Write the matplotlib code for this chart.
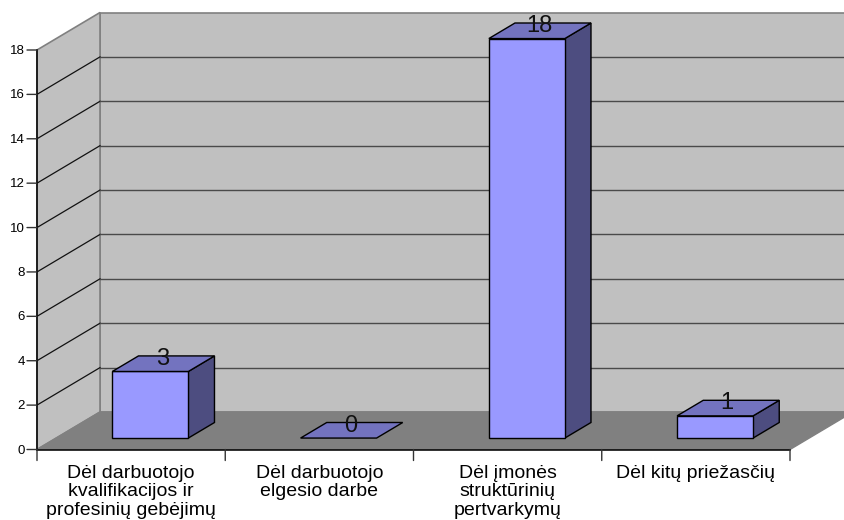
import matplotlib
matplotlib.use("Agg")
import matplotlib.pyplot as plt
from matplotlib.patches import Polygon

plt.rcParams['font.family'] = ['Liberation Sans', 'DejaVu Sans']

# --- chart data
categories = ["Dėl darbuotojo\nkvalifikacijos ir\nprofesinių gebėjimų",
              "Dėl darbuotojo\nelgesio darbe",
              "Dėl įmonės\nstruktūrinių\npertvarkymų",
              "Dėl kitų priežasčių"]
values = [3, 0, 18, 1]
y_ticks = [0, 2, 4, 6, 8, 10, 12, 14, 16, 18]

# --- oblique depth: one unit of depth in data units
W, H = 844.0, 520.0
X0, X1 = 37.0, 790.0
Y0, Y1 = 449.5, 50.0
DX = 63.0 / ((X1 - X0) / 4.0)
DY = 37.5 / ((Y0 - Y1) / 18.0)
BAR_W = 76.0 / ((X1 - X0) / 4.0)
BAR_D0, BAR_D1 = 0.305, 0.72


def proj(x, y, d=0.0):
    return (x + d * DX, y + d * DY)


def face(ax, pts, color, edge='black', lw=1.0, z=2):
    ax.add_patch(Polygon(pts, closed=True, facecolor=color, edgecolor=edge,
                         linewidth=lw, joinstyle='miter', clip_on=False, zorder=z))


fig = plt.figure(figsize=(W / 100, H / 100), dpi=100)
ax = fig.add_axes([X0 / W, 1 - Y0 / H, (X1 - X0) / W, (Y0 - Y1) / H])
ax.set_xlim(0, 4)
ax.set_ylim(0, 18)
ax.axis('off')

top = y_ticks[-1]

# back wall, side wall, floor
face(ax, [proj(0, 0, 1), proj(4, 0, 1), proj(4, top, 1), proj(0, top, 1)],
     '#C0C0C0', edge='#808080', lw=1.2, z=1)
face(ax, [proj(0, 0, 0), proj(0, 0, 1), proj(0, top, 1), proj(0, top, 0)],
     '#C0C0C0', edge='#808080', lw=1.2, z=1)
face(ax, [proj(0, 0, 0), proj(4, 0, 0), proj(4, 0, 1), proj(0, 0, 1)],
     '#808080', edge='#808080', lw=1.0, z=1)

# gridlines on the two walls
for t in y_ticks[1:-1]:
    a, b, c = proj(0, t, 0), proj(0, t, 1), proj(4, t, 1)
    ax.plot([a[0], b[0]], [a[1], b[1]], color='#111111', lw=0.9, clip_on=False, zorder=1.5)
    ax.plot([b[0], c[0]], [b[1], c[1]], color='#4a4a4a', lw=1.0, clip_on=False, zorder=1.5)

# axes lines and ticks
ax.plot([0, 0], [0, top], color='black', lw=1.1, clip_on=False, zorder=1.6)
ax.plot([0, 4], [0, 0], color='black', lw=1.1, clip_on=False, zorder=1.6)
for t in y_ticks:
    ax.annotate('', xy=(0, t), xytext=(-10, 0), textcoords='offset pixels',
                arrowprops=dict(arrowstyle='-', color='#333333', lw=1.0,
                                shrinkA=0, shrinkB=0))
    ax.annotate(str(t), xy=(0, t), xytext=(-12, -1), textcoords='offset pixels',
                ha='right', va='center', fontsize=9.5, color='black')
for i in range(5):
    ax.annotate('', xy=(i, 0), xytext=(0, -11), textcoords='offset pixels',
                arrowprops=dict(arrowstyle='-', color='#333333', lw=1.0,
                                shrinkA=0, shrinkB=0))

# bars
for i, v in enumerate(values):
    xl = i + 0.5 - BAR_W / 2
    xr = i + 0.5 + BAR_W / 2
    if v > 0:
        face(ax, [proj(xr, 0, BAR_D0), proj(xr, 0, BAR_D1),
                  proj(xr, v, BAR_D1), proj(xr, v, BAR_D0)], '#4D4D80', z=3)
        face(ax, [proj(xl, 0, BAR_D0), proj(xr, 0, BAR_D0),
                  proj(xr, v, BAR_D0), proj(xl, v, BAR_D0)], '#9999FF', z=3)
    face(ax, [proj(xl, v, BAR_D0), proj(xr, v, BAR_D0),
              proj(xr, v, BAR_D1), proj(xl, v, BAR_D1)], '#7373BF', z=3)
    # value label sits over the middle of the bar's top face, at its back edge
    lx = proj(i + 0.5, v, (BAR_D0 + BAR_D1) / 2)[0]
    ly = proj(i + 0.5, v, BAR_D1)[1]
    ax.annotate(str(v), xy=(lx, ly), xytext=(-1, -3), textcoords='offset pixels',
                ha='center', va='center', fontsize=17, annotation_clip=False,
                color='#111111', zorder=4)

# category labels
for i, c in enumerate(categories):
    ax.annotate(c, xy=(i + 0.5, 0), xytext=(0, -15), textcoords='offset pixels',
                ha='center', va='top', fontsize=14, linespacing=1.15, color='black')

fig.savefig('out.png', dpi=100)
